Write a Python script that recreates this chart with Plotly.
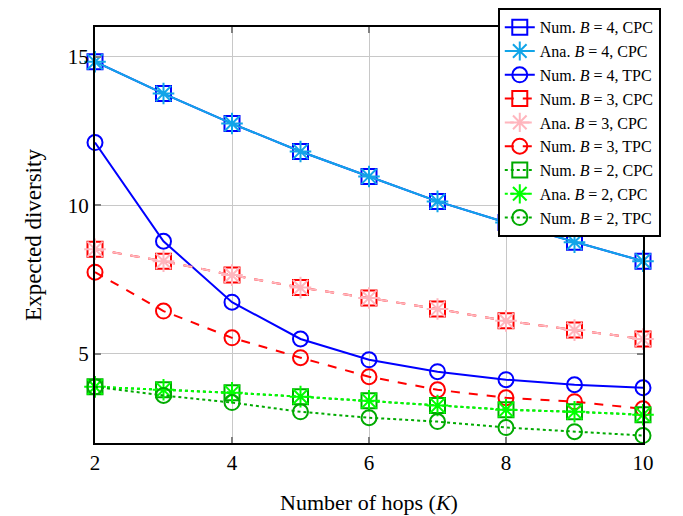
import plotly.graph_objects as go

hops = [2, 3, 4, 5, 6, 7, 8, 9, 10]

num_b4_cpc = [14.83, 13.76, 12.75, 11.81, 10.97, 10.13, 9.42, 8.76, 8.12]
ana_b4_cpc = [14.83, 13.76, 12.75, 11.81, 10.97, 10.13, 9.42, 8.76, 8.12]
num_b4_tpc = [12.11, 8.79, 6.74, 5.50, 4.80, 4.40, 4.13, 3.96, 3.86]
num_b3_cpc = [8.52, 8.12, 7.65, 7.23, 6.88, 6.51, 6.11, 5.80, 5.50]
ana_b3_cpc = [8.52, 8.12, 7.65, 7.23, 6.88, 6.51, 6.11, 5.80, 5.50]
num_b3_tpc = [7.75, 6.44, 5.54, 4.87, 4.23, 3.79, 3.52, 3.39, 3.15]
num_b2_cpc = [3.89, 3.79, 3.69, 3.56, 3.42, 3.26, 3.12, 3.05, 2.95]
ana_b2_cpc = [3.89, 3.79, 3.69, 3.56, 3.42, 3.26, 3.12, 3.05, 2.95]
num_b2_tpc = [3.89, 3.60, 3.36, 3.05, 2.85, 2.72, 2.52, 2.38, 2.25]

series = [
    ("Num. <i>B</i> = 4, CPC", num_b4_cpc, "#0000FF", "solid", "square-open", 15),
    ("Ana. <i>B</i> = 4, CPC", ana_b4_cpc, "#12A5E8", "solid", "asterisk-open", 18),
    ("Num. <i>B</i> = 4, TPC", num_b4_tpc, "#0000FF", "solid", "circle-open", 15),
    ("Num. <i>B</i> = 3, CPC", num_b3_cpc, "#FF0000", "dash", "square-open", 15),
    ("Ana. <i>B</i> = 3, CPC", ana_b3_cpc, "#FFB6BE", "dash", "asterisk-open", 18),
    ("Num. <i>B</i> = 3, TPC", num_b3_tpc, "#FF0000", "dash", "circle-open", 15),
    ("Num. <i>B</i> = 2, CPC", num_b2_cpc, "#00AA00", "dot", "square-open", 15),
    ("Ana. <i>B</i> = 2, CPC", ana_b2_cpc, "#00FF00", "dot", "asterisk-open", 18),
    ("Num. <i>B</i> = 2, TPC", num_b2_tpc, "#00AA00", "dot", "circle-open", 15),
]

fig = go.Figure()
for name, ys, color, dash, sym, size in series:
    fig.add_trace(go.Scatter(
        x=hops, y=ys, name=name, mode="lines+markers",
        line=dict(color=color, width=2, dash=dash),
        marker=dict(symbol=sym, size=size, color=color, line=dict(color=color, width=2)),
        cliponaxis=False,
    ))

axis_common = dict(
    showgrid=True, gridcolor="#C8C8C8", gridwidth=1,
    showline=True, linecolor="black", linewidth=2, mirror="ticks",
    ticks="inside", ticklen=6, tickcolor="#808080", tickwidth=2,
    zeroline=False, automargin=False,
    tickfont=dict(family="Liberation Serif", size=21, color="black"),
)

fig.update_xaxes(range=[2, 10], tickvals=[2, 4, 6, 8, 10],
                 title_text="Number of hops (<i>K</i>)", title_standoff=20,
                 title_font=dict(family="Liberation Serif", size=22, color="black"),
                 **axis_common)
fig.update_yaxes(range=[2, 16], tickvals=[5, 10, 15],
                 title_text="Expected diversity", title_standoff=20,
                 title_font=dict(family="Liberation Serif", size=23, color="black"),
                 **axis_common)

# page body has an 8px margin, so the figure is offset by 8px
fig.update_layout(
    width=675, height=508,
    margin=dict(l=87, r=40, t=19, b=73, autoexpand=False),
    plot_bgcolor="white", paper_bgcolor="white",
    font=dict(family="Liberation Serif", color="black"),
    legend=dict(
        x=0.735, y=1.045, xanchor="left", yanchor="top",
        bgcolor="white", bordercolor="black", borderwidth=2,
        font=dict(family="Liberation Serif", size=16, color="black"),
        tracegroupgap=0,
    ),
    showlegend=True,
)

fig.write_html("out.html")
